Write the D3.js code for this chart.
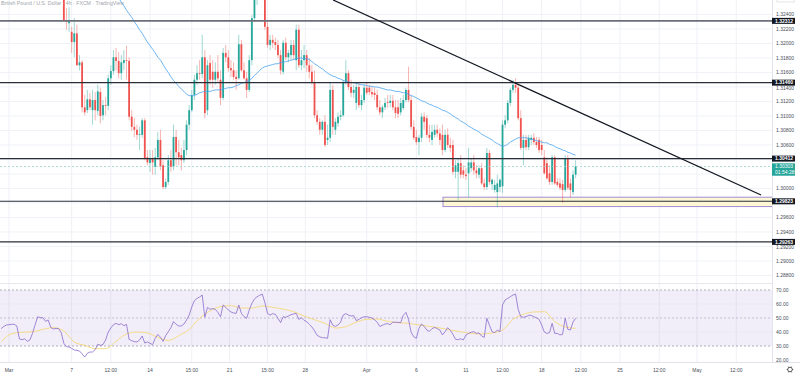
<!DOCTYPE html>
<html><head><meta charset="utf-8">
<script src="https://cdn.jsdelivr.net/npm/d3@7"></script>
<style>html,body{margin:0;padding:0;background:#fff;overflow:hidden}svg{display:block;font-family:"Liberation Sans",Arial,sans-serif}</style>
</head><body><svg id="c" width="800" height="379"></svg>
<script>
// ---------- DATA ----------
const firstIndex = -3; // candle index of first bar (index 0 = Mar 1)
const opens = [1.3420,1.3425,1.3395,1.3370,1.3345,1.3300,1.3290,1.3285,1.3305,1.3335,1.3350,1.3370,1.3390,1.3400,1.3420,1.3405,1.3380,1.3360,1.3345,1.3330,1.3320,1.3310,1.3300,1.3290,
1.3285,1.3232,1.3228,1.3216,1.3202,1.3214,1.3170,1.3174,1.3112,1.3108,
1.3123,1.3108,1.3122,1.3107,1.3133,1.3101,1.3115,1.3114,1.3152,1.3162,
1.3181,1.3176,1.3159,1.3173,1.3177,1.3176,1.3099,1.3085,1.3081,1.3074,
1.3074,1.3094,1.3043,1.3035,1.3042,1.3030,1.3043,1.3067,1.3032,1.3002,
1.3009,1.3039,1.3030,1.3071,1.3050,1.3046,1.3039,1.3053,1.3088,1.3108,
1.3129,1.3150,1.3159,1.3158,1.3181,1.3108,1.3173,1.3161,1.3150,1.3161,
1.3150,1.3125,1.3187,1.3181,1.3166,1.3163,1.3154,1.3152,1.3199,1.3163,
1.3152,1.3136,1.3177,1.3235,1.3260,1.3271,1.3277,1.3271,1.3223,1.3198,
1.3205,1.3202,1.3198,1.3184,1.3161,1.3201,1.3181,1.3184,1.3198,1.3177,
1.3219,1.3170,1.3177,1.3184,1.3170,1.3161,1.3147,1.3101,1.3092,1.3081,
1.3092,1.3067,1.3070,1.3136,1.3081,1.3090,1.3099,1.3101,1.3147,1.3159,
1.3140,1.3132,1.3118,1.3140,1.3115,1.3122,1.3139,1.3139,1.3133,1.3132,
1.3129,1.3112,1.3105,1.3112,1.3119,1.3118,1.3121,1.3112,1.3112,1.3105,
1.3111,1.3122,1.3136,1.3122,1.3085,1.3071,1.3064,1.3070,1.3099,1.3097,
1.3074,1.3067,1.3074,1.3081,1.3076,1.3074,1.3053,1.3074,1.3060,1.3060,
1.3023,1.3023,1.3035,1.3025,1.3019,1.3021,1.3028,1.3036,1.3025,1.3019,
1.3028,1.3007,1.3002,1.3049,1.3006,1.2998,1.2995,1.3002,1.3003,1.3088,
1.3094,1.3118,1.3136,1.3143,1.3139,1.3097,1.3056,1.3067,1.3057,1.3067,
1.3070,1.3064,1.3067,1.3060,1.3043,1.3035,1.3021,1.3009,1.3043,1.3009,
1.3007,1.3006,1.2998,1.3042,1.3007,1.2995,1.3019];
const highs = [1.3437,1.3430,1.3400,1.3380,1.3350,1.3320,1.3300,1.3310,1.3340,1.3360,1.3375,1.3400,1.3410,1.3436,1.3430,1.3415,1.3390,1.3370,1.3355,1.3340,1.3330,1.3320,1.3310,1.3300,
1.3290,1.3249,1.3250,1.3223,1.3235,1.3226,1.3184,1.3177,1.3129,1.3136,
1.3132,1.3136,1.3133,1.3143,1.3139,1.3122,1.3126,1.3157,1.3170,1.3191,
1.3194,1.3188,1.3184,1.3191,1.3197,1.3181,1.3108,1.3097,1.3088,1.3085,
1.3097,1.3097,1.3053,1.3053,1.3053,1.3056,1.3078,1.3081,1.3039,1.3014,
1.3046,1.3053,1.3088,1.3081,1.3067,1.3056,1.3067,1.3094,1.3115,1.3136,
1.3157,1.3170,1.3177,1.3212,1.3191,1.3177,1.3184,1.3177,1.3174,1.3184,
1.3163,1.3194,1.3198,1.3191,1.3177,1.3174,1.3163,1.3212,1.3205,1.3174,
1.3161,1.3184,1.3239,1.3267,1.3281,1.3288,1.3285,1.3277,1.3232,1.3212,
1.3212,1.3208,1.3205,1.3191,1.3205,1.3208,1.3191,1.3205,1.3205,1.3226,
1.3226,1.3191,1.3198,1.3191,1.3180,1.3170,1.3163,1.3108,1.3097,1.3094,
1.3101,1.3088,1.3147,1.3143,1.3097,1.3105,1.3108,1.3150,1.3177,1.3163,
1.3150,1.3143,1.3147,1.3147,1.3129,1.3143,1.3147,1.3143,1.3140,1.3139,
1.3136,1.3122,1.3115,1.3125,1.3129,1.3129,1.3129,1.3122,1.3122,1.3125,
1.3129,1.3139,1.3168,1.3129,1.3094,1.3081,1.3074,1.3104,1.3105,1.3101,
1.3088,1.3088,1.3088,1.3088,1.3083,1.3088,1.3081,1.3083,1.3070,1.3067,
1.3039,1.3042,1.3046,1.3032,1.3028,1.3056,1.3042,1.3046,1.3032,1.3032,
1.3035,1.3014,1.3056,1.3053,1.3014,1.3012,1.3019,1.3014,1.3094,1.3101,
1.3122,1.3139,1.3150,1.3152,1.3145,1.3108,1.3074,1.3074,1.3074,1.3074,
1.3076,1.3071,1.3071,1.3067,1.3053,1.3043,1.3032,1.3046,1.3046,1.3014,
1.3014,1.3012,1.3046,1.3046,1.3014,1.3025,1.3039];
const lows = [1.3410,1.3390,1.3360,1.3330,1.3290,1.3275,1.3274,1.3280,1.3300,1.3325,1.3340,1.3360,1.3380,1.3390,1.3395,1.3370,1.3350,1.3335,1.3320,1.3310,1.3300,1.3290,1.3280,1.3270,
1.3230,1.3219,1.3216,1.3187,1.3181,1.3169,1.3163,1.3105,1.3101,1.3104,
1.3108,1.3088,1.3094,1.3101,1.3090,1.3094,1.3101,1.3108,1.3143,1.3157,
1.3163,1.3152,1.3150,1.3163,1.3150,1.3094,1.3079,1.3071,1.3067,1.3053,
1.3070,1.3039,1.3032,1.3023,1.3019,1.3019,1.3039,1.3025,1.2999,1.2999,
1.3005,1.3023,1.3025,1.3032,1.3032,1.3025,1.3035,1.3046,1.3081,1.3105,
1.3122,1.3143,1.3150,1.3152,1.3097,1.3101,1.3143,1.3139,1.3143,1.3147,
1.3115,1.3122,1.3174,1.3161,1.3154,1.3150,1.3136,1.3150,1.3161,1.3150,
1.3125,1.3133,1.3170,1.3230,1.3253,1.3264,1.3260,1.3219,1.3194,1.3191,
1.3194,1.3191,1.3180,1.3157,1.3157,1.3177,1.3174,1.3177,1.3177,1.3163,
1.3166,1.3163,1.3166,1.3161,1.3152,1.3143,1.3097,1.3088,1.3074,1.3074,
1.3057,1.3060,1.3064,1.3074,1.3074,1.3085,1.3094,1.3099,1.3143,1.3136,
1.3126,1.3125,1.3108,1.3111,1.3108,1.3118,1.3129,1.3129,1.3126,1.3122,
1.3108,1.3101,1.3097,1.3108,1.3111,1.3112,1.3108,1.3097,1.3097,1.3101,
1.3108,1.3119,1.3119,1.3081,1.3067,1.3060,1.3046,1.3064,1.3081,1.3070,
1.3064,1.3060,1.3070,1.3071,1.3060,1.3046,1.3050,1.3056,1.3050,1.3019,
1.3014,1.2984,1.3014,1.3014,1.3012,1.2988,1.3023,1.3019,1.3014,1.3014,
1.3005,1.2998,1.2998,1.3005,1.2998,1.2994,1.2974,1.2995,1.2994,1.3083,
1.3090,1.3114,1.3132,1.3132,1.3094,1.3053,1.3032,1.3053,1.3053,1.3060,
1.3060,1.3056,1.3049,1.3046,1.3019,1.3012,1.3005,1.3005,1.3005,1.3002,
1.2998,1.2980,1.2995,1.2998,1.2988,1.2991,1.3014];
const closes = [1.3425,1.3395,1.3370,1.3345,1.3300,1.3290,1.3285,1.3305,1.3335,1.3350,1.3370,1.3390,1.3400,1.3420,1.3405,1.3380,1.3360,1.3345,1.3330,1.3320,1.3310,1.3300,1.3290,1.3285,
1.3232,1.3230,1.3231,1.3202,1.3214,1.3170,1.3174,1.3112,1.3105,1.3123,
1.3112,1.3122,1.3108,1.3134,1.3100,1.3115,1.3114,1.3152,1.3162,1.3181,
1.3176,1.3159,1.3174,1.3177,1.3176,1.3099,1.3085,1.3081,1.3074,1.3075,
1.3094,1.3042,1.3036,1.3042,1.3036,1.3043,1.3067,1.3030,1.3002,1.3009,
1.3039,1.3030,1.3071,1.3050,1.3043,1.3039,1.3053,1.3088,1.3108,1.3129,
1.3150,1.3159,1.3158,1.3181,1.3104,1.3170,1.3150,1.3150,1.3161,1.3152,
1.3125,1.3187,1.3181,1.3166,1.3163,1.3154,1.3151,1.3199,1.3163,1.3152,
1.3136,1.3177,1.3235,1.3260,1.3271,1.3277,1.3271,1.3223,1.3198,1.3205,
1.3201,1.3198,1.3184,1.3163,1.3201,1.3181,1.3187,1.3198,1.3184,1.3219,
1.3170,1.3177,1.3184,1.3170,1.3161,1.3147,1.3101,1.3092,1.3081,1.3092,
1.3060,1.3070,1.3136,1.3085,1.3092,1.3099,1.3101,1.3147,1.3159,1.3140,
1.3132,1.3136,1.3140,1.3115,1.3122,1.3139,1.3132,1.3133,1.3130,1.3129,
1.3112,1.3105,1.3112,1.3118,1.3118,1.3121,1.3112,1.3104,1.3103,1.3118,
1.3122,1.3136,1.3122,1.3085,1.3070,1.3064,1.3070,1.3099,1.3092,1.3074,
1.3070,1.3078,1.3081,1.3076,1.3067,1.3053,1.3074,1.3060,1.3056,1.3023,
1.3032,1.3035,1.3019,1.3019,1.3017,1.3036,1.3036,1.3025,1.3021,1.3028,
1.3007,1.3002,1.3049,1.3009,1.3012,1.3005,1.3007,1.3012,1.3088,1.3094,
1.3118,1.3136,1.3143,1.3139,1.3097,1.3056,1.3067,1.3057,1.3070,1.3070,
1.3064,1.3060,1.3053,1.3053,1.3021,1.3014,1.3009,1.3043,1.3007,1.3005,
1.3001,1.2998,1.3042,1.3001,1.2998,1.3019,1.30303];

// moving average (blue), from candle index maStart
const maStart = 41;
const maValues = [1.3268,1.3263,1.3257,1.3252,1.3246,1.3241,1.3236,1.3230,1.3225,1.3219,
1.3214,1.3208,1.3202,1.3197,1.3192,1.3187,1.3181,1.3177,1.3171,1.3165,
1.3160,1.3154,1.3149,1.3145,1.3141,1.3137,1.3134,1.3130,1.3128,1.3128,
1.3128,1.3130,1.3132,1.3133,1.3134,1.3134,1.3134,1.3135,1.3136,1.3136,
1.3136,1.3137,1.3138,1.3139,1.3139,1.3140,1.3142,1.3143,1.3145,1.3146,
1.3148,1.3149,1.3152,1.3156,1.3159,1.3163,1.3166,1.3168,1.3169,1.3170,
1.3171,1.3172,1.3172,1.3174,1.3174,1.3175,1.3176,1.3177,1.3178,1.3179,
1.3180,1.3180,1.3179,1.3179,1.3178,1.3175,1.3172,1.3170,1.3167,1.3165,
1.3162,1.3159,1.3157,1.3155,1.3154,1.3152,1.3151,1.3149,1.3148,1.3147,
1.3146,1.3146,1.3145,1.3144,1.3143,1.3143,1.3142,1.3141,1.3141,1.3140,
1.3140,1.3139,1.3138,1.3137,1.3136,1.3136,1.3135,1.3134,1.3134,1.3133,
1.3132,1.3132,1.3130,1.3128,1.3127,1.3125,1.3123,1.3121,1.3120,1.3118,
1.3116,1.3115,1.3113,1.3112,1.3110,1.3108,1.3107,1.3105,1.3103,1.3100,
1.3098,1.3096,1.3093,1.3091,1.3089,1.3086,1.3084,1.3082,1.3080,1.3078,
1.3075,1.3073,1.3071,1.3069,1.3067,1.3064,1.3062,1.3060,1.3058,1.3059,
1.3061,1.3064,1.3066,1.3068,1.3070,1.3070,1.3070,1.3070,1.3069,1.3068,
1.3067,1.3066,1.3065,1.3064,1.3063,1.3063,1.3061,1.3060,1.3058,1.3056,
1.3055,1.3053,1.3052,1.3050,1.3049,1.3047,1.3046];

// RSI per candle (same indices as candles)
const rsiValues = [42.4,44.0,45.0,45.2,45.5,45.5,44.3,35.0,34.5,35.2,
33.3,34.3,39.0,45.2,50.9,50.2,50.2,47.6,48.6,43.3,
42.1,42.6,42.4,39.5,31.9,29.5,29.3,28.3,27.1,26.9,
26.4,24.3,22.1,24.8,25.7,25.7,27.4,31.2,30.5,31.0,
34.3,40.0,42.9,45.2,46.2,45.2,45.9,44.5,45.5,34.7,
33.8,33.1,32.9,34.3,37.1,32.1,32.9,31.9,31.0,35.5,
38.3,36.2,33.3,37.4,40.2,43.1,47.4,45.5,44.3,44.3,
45.7,48.6,52.1,57.9,62.4,64.0,65.0,66.4,50.5,57.6,
56.2,56.7,56.2,54.0,50.9,59.3,57.6,55.7,54.3,53.6,
53.3,59.3,53.3,50.9,49.8,55.7,60.5,63.6,65.2,66.2,
67.1,61.0,53.3,52.1,53.1,52.6,49.8,46.7,50.9,50.5,
51.4,52.4,52.9,53.3,49.0,50.2,48.3,47.4,45.5,43.6,
40.9,37.6,36.6,35.9,35.9,35.5,48.8,44.8,44.0,45.0,
47.1,52.1,53.1,52.1,51.4,51.7,48.1,49.0,50.2,50.9,
50.9,50.5,50.0,48.8,46.9,44.0,44.8,45.7,46.0,45.2,
47.1,46.9,46.9,46.6,51.9,54.0,49.0,39.8,36.6,35.5,
42.6,45.7,44.0,41.4,40.5,42.4,43.3,42.4,41.4,37.9,
40.2,43.1,41.2,38.3,34.8,34.5,35.2,34.3,37.9,39.0,
39.8,40.2,39.0,39.3,37.1,36.2,49.8,44.8,40.2,39.5,
41.4,40.2,59.3,62.9,64.0,65.2,66.4,67.1,56.2,50.9,
50.5,50.9,51.9,51.9,50.9,50.2,49.0,45.0,40.0,39.0,
39.5,46.2,39.0,39.0,37.9,38.3,49.8,41.9,41.4,47.1,
49.8];

// RSI signal (yellow), read every 4th candle
const signalIndex = d3.range(-3, 218, 4);
const signalValues = [33.1,38.8,39.8,40.2,41.9,43.1,40.7,32.8,30.5,28.1,
28.1,33.3,38.6,40.0,39.3,36.2,34.0,37.4,41.9,49.8,
55.0,58.1,58.8,57.1,57.1,58.6,57.6,56.4,54.5,51.4,
48.8,46.2,42.8,43.8,47.1,49.0,49.3,47.6,46.7,46.2,
45.0,44.0,42.9,41.4,40.2,39.0,38.6,39.3,41.4,49.0,
52.6,54.3,54.5,47.4,43.6,42.6];

const priceTicks = [1.324,1.322,1.320,1.318,1.316,1.314,1.312,1.310,1.308,1.306,1.304,1.302,1.300,1.298,1.296,1.294,1.292,1.290,1.288];
const rsiTicks = [70,60,50,40,30,20];
const timeLabels = ["Mar","7","12:00","14","15:00","21","15:00","28","Apr","6","11","12:00","18","12:00","25","12:00","May","12:00"];
const timeIndex  = [0,24,39,54,70,84.5,99,113.5,137,156,175,189,204,219,234,249,263.5,278.5];

const levels = [1.32312,1.31460,1.30412,1.29823,1.29263];
const lastPrice = 1.30303, countdown = "01:54:28";
const zoneFrom = 166.2, zoneTop = 1.2988, zoneBottom = 1.2975;
const trendA = [124.1, 1.3260], trendB = [288, 1.2991];
const title = "British Pound / U.S. Dollar · 4h · FXCM · TradingView";

// ---------- DRAW ----------
const plotW = 772, mainBottom = 283, rsiTop = 284, axisTop = 362;
const svg = d3.select('#c');
const x = d3.scaleLinear().domain([-3.447, 292.2]).range([0, plotW]);
const y = d3.scaleLinear().domain([1.2871, 1.3260]).range([282, 0]);
const ry = d3.scaleLinear().domain([20, 70]).range([360, 290]);
const UP = '#26a69a', DN = '#ef5350';

const defs = svg.append('defs');
defs.append('clipPath').attr('id','cm').append('rect').attr('x',0).attr('y',0).attr('width',plotW).attr('height',mainBottom);
defs.append('clipPath').attr('id','cr').append('rect').attr('x',0).attr('y',rsiTop).attr('width',plotW).attr('height',axisTop-rsiTop);

// grid
const grid = svg.append('g');
grid.selectAll('.vg').data(timeIndex).join('line').attr('x1',d=>x(d)).attr('x2',d=>x(d)).attr('y1',0).attr('y2',axisTop).attr('stroke','#eef0f5').attr('stroke-width',1);
grid.selectAll('.hg').data(priceTicks).join('line').attr('x1',0).attr('x2',plotW).attr('y1',d=>y(d)).attr('y2',d=>y(d)).attr('stroke','#f0f2f7');

// main pane
const main = svg.append('g').attr('clip-path','url(#cm)');
main.append('rect').attr('x',x(zoneFrom)).attr('y',y(zoneTop)).attr('width',plotW-x(zoneFrom)+2).attr('height',y(zoneBottom)-y(zoneTop))
  .attr('fill','#fdf7d6').attr('stroke','#9a7fd0').attr('stroke-width',0.9);

const idx = opens.map((_,k)=>k+firstIndex);
const cg = main.append('g');
cg.selectAll('.w').data(idx).join('line')
  .attr('x1',d=>x(d)).attr('x2',d=>x(d))
  .attr('y1',d=>y(highs[d-firstIndex])).attr('y2',d=>y(lows[d-firstIndex]))
  .attr('stroke',d=>closes[d-firstIndex]>=opens[d-firstIndex]?UP:DN).attr('stroke-opacity',0.55).attr('stroke-width',0.8);
cg.selectAll('.b').data(idx).join('rect')
  .attr('x',d=>x(d)-0.9).attr('width',1.8)
  .attr('y',d=>y(Math.max(opens[d-firstIndex],closes[d-firstIndex])))
  .attr('height',d=>Math.max(0.8, Math.abs(y(opens[d-firstIndex])-y(closes[d-firstIndex]))))
  .attr('fill',d=>closes[d-firstIndex]>=opens[d-firstIndex]?UP:DN);

main.append('path').datum(maValues).attr('fill','none').attr('stroke','#4aa3f0').attr('stroke-width',0.8)
  .attr('d', d3.line().x((v,k)=>x(maStart+k)).y(v=>y(v)));

main.append('line').attr('x1',0).attr('x2',plotW).attr('y1',y(lastPrice)).attr('y2',y(lastPrice))
  .attr('stroke','#9fd3cd').attr('stroke-width',0.8).attr('stroke-dasharray','2,2');

main.selectAll('.lv').data(levels).join('line').attr('x1',0).attr('x2',plotW).attr('y1',d=>y(d)).attr('y2',d=>y(d))
  .attr('stroke',(d,k)=>k===0?'#6c6f7a':'#2a2e39').attr('stroke-width',(d,k)=>k===0?1.6:1.1);

main.append('line').attr('x1',x(trendA[0])).attr('y1',y(trendA[1])).attr('x2',x(trendB[0])).attr('y2',y(trendB[1]))
  .attr('stroke','#131722').attr('stroke-width',1.3);

// title line at the very top (small, faint)
svg.append('text').attr('x',1).attr('y',4.6).attr('font-size',5.2).attr('fill','#a3a6ae').text(title);

svg.append('line').attr('x1',0).attr('x2',800).attr('y1',mainBottom+0.5).attr('y2',mainBottom+0.5).attr('stroke','#e6e8ee');

// RSI pane
const rp = svg.append('g').attr('clip-path','url(#cr)');
rp.append('rect').attr('x',0).attr('width',plotW).attr('y',ry(70)).attr('height',ry(30)-ry(70)).attr('fill','rgba(126,87,194,0.1)');
rp.selectAll('.rg').data([60,40]).join('line').attr('x1',0).attr('x2',plotW).attr('y1',d=>ry(d)).attr('y2',d=>ry(d)).attr('stroke','#ebe8f3');
rp.selectAll('.rd').data([70,50,30]).join('line').attr('x1',0).attr('x2',plotW).attr('y1',d=>ry(d)).attr('y2',d=>ry(d))
  .attr('stroke',d=>d===50?'#b9b2cc':'#9a9aa6').attr('stroke-width',0.8).attr('stroke-dasharray','2,2');
rp.append('path').datum(signalValues).attr('fill','none').attr('stroke','#f5d56a').attr('stroke-width',0.8)
  .attr('d', d3.line().curve(d3.curveMonotoneX).x((v,k)=>x(signalIndex[k])).y(v=>ry(v)));
rp.append('path').datum(rsiValues).attr('fill','none').attr('stroke','#8a6bcb').attr('stroke-width',0.8)
  .attr('d', d3.line().x((v,k)=>x(firstIndex+k)).y(v=>ry(v)));

// price axis
const pa = svg.append('g');
pa.append('rect').attr('x',plotW).attr('y',0).attr('width',800-plotW).attr('height',379).attr('fill','#fff');
pa.append('line').attr('x1',plotW+0.5).attr('x2',plotW+0.5).attr('y1',0).attr('y2',379).attr('stroke','#e0e3eb');
pa.append('rect').attr('x',777).attr('y',-4).attr('width',17).attr('height',6).attr('fill','#fff').attr('stroke','#d0d3da').attr('stroke-width',0.6);

const boxes = levels.map(p=>[y(p)-3, y(p)+3]).concat([[y(lastPrice)-3.2, y(lastPrice)+9.2]]);
const tickPos = priceTicks.map(t=>{
  let c = y(t);
  for (const [a,b] of boxes) {
    if (c >= a && c <= b) return null;
    if (c > b && c - 2.2 < b) c = b + 2.3;
    if (c < a && c + 2.2 > a) c = a - 2.3;
  }
  return c;
});
pa.selectAll('.pt').data(priceTicks.filter((t,k)=>tickPos[k]!==null)).join('text')
  .attr('x',776).attr('y',d=>tickPos[priceTicks.indexOf(d)]+1.8).attr('font-size',5).attr('fill','#4a4e59').text(d=>d.toFixed(5));
pa.selectAll('.rt').data(rsiTicks).join('text').attr('x',776).attr('y',d=>ry(d)+1.8).attr('font-size',5).attr('fill','#4a4e59').text(d=>d.toFixed(2));
const lg = pa.selectAll('.ll').data(levels).join('g');
lg.append('rect').attr('x',plotW).attr('y',d=>y(d)-3).attr('width',23).attr('height',6).attr('fill','#131722');
lg.append('text').attr('x',775).attr('y',d=>y(d)+1.8).attr('font-size',5).attr('font-weight','bold').attr('fill','#fff').text(d=>d.toFixed(5));
pa.append('rect').attr('x',plotW).attr('y',y(lastPrice)-3.2).attr('width',23).attr('height',12.4).attr('fill',UP);
pa.append('text').attr('x',775).attr('y',y(lastPrice)+1.8).attr('font-size',5).attr('fill','#fff').text(lastPrice.toFixed(5));
pa.append('text').attr('x',775).attr('y',y(lastPrice)+7.6).attr('font-size',5).attr('fill','#fff').text(countdown);

// time axis
const ta = svg.append('g');
ta.append('rect').attr('x',0).attr('y',axisTop).attr('width',800).attr('height',379-axisTop).attr('fill','#fff');
ta.append('line').attr('x1',0).attr('x2',800).attr('y1',axisTop+0.5).attr('y2',axisTop+0.5).attr('stroke','#e0e3eb');
ta.selectAll('.tl').data(timeLabels).join('text').attr('x',(d,k)=>x(timeIndex[k])).attr('y',371.5).attr('text-anchor','middle')
  .attr('font-size',5).attr('fill','#4a4e59').text(d=>d);
ta.append('circle').attr('cx',790).attr('cy',369.5).attr('r',2.3).attr('fill','none').attr('stroke','#333').attr('stroke-width',0.8);
ta.selectAll('.gt').data(d3.range(0,360,60)).join('line')
  .attr('x1',d=>790+2.3*Math.cos(d*Math.PI/180)).attr('y1',d=>369.5+2.3*Math.sin(d*Math.PI/180))
  .attr('x2',d=>790+3.3*Math.cos(d*Math.PI/180)).attr('y2',d=>369.5+3.3*Math.sin(d*Math.PI/180))
  .attr('stroke','#333').attr('stroke-width',0.8);
</script>
</body></html>
